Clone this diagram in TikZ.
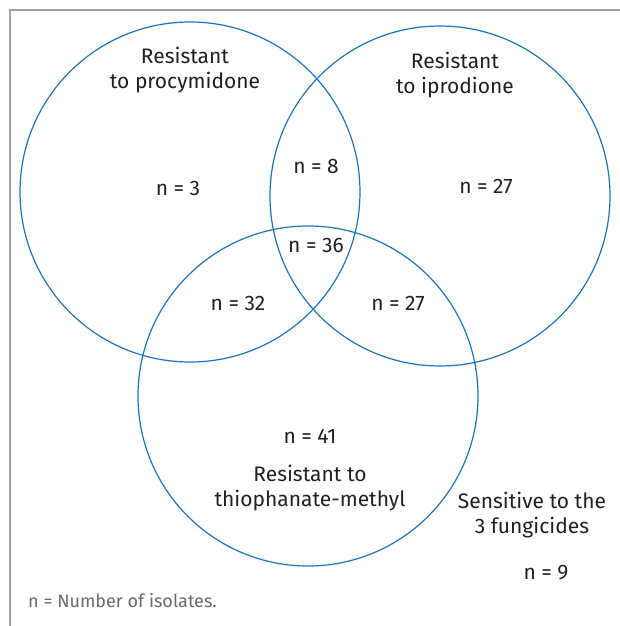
\documentclass[tikz,border=0pt]{standalone}
\usepackage{fontspec}
\setmainfont{Fira Sans}
\definecolor{vennblue}{RGB}{28,114,189}
\definecolor{framegray}{RGB}{160,160,160}
\definecolor{txtdark}{RGB}{35,31,32}
\definecolor{notegray}{RGB}{105,105,105}
\begin{document}
\begin{tikzpicture}[x=1pt, y=-1pt,
    set/.style={vennblue, line width=1.2pt},
    lbl/.style={font=\fontsize{21}{25}\selectfont, text=txtdark, align=center, inner sep=0pt},
    note/.style={font=\fontsize{18}{22}\selectfont, text=notegray, anchor=west, inner sep=0pt}]

    \useasboundingbox (0,0) rectangle (620,626);

    %% frame (top and left edges only)
    \draw[framegray, line width=1.5pt] (10,626) -- (10,10) -- (620,10);

    %% the three sets
    \draw[set] (190,192) circle[radius=170];
    \draw[set] (440,196) circle[radius=170];
    \draw[set] (308,396) circle[radius=170];

    %% set names
    \node[lbl] (procy) at (185,70) {Resistant\\to procymidone};
    \node[lbl] (ipro) at (455,75) {Resistant\\to iprodione};
    \node[lbl] (thio) at (310,488) {Resistant to\\thiophanate-methyl};
    \node[lbl] (sens) at (532,515) {Sensitive to the\\3 fungicides};

    %% counts
    \node[lbl] (nA) at (178,188) {n = 3};
    \node[lbl] (nAB) at (316,166) {n = 8};
    \node[lbl] (nB) at (486,186) {n = 27};
    \node[lbl] (nABC) at (316,245) {n = 36};
    \node[lbl] (nAC) at (238,303) {n = 32};
    \node[lbl] (nBC) at (398,303) {n = 27};
    \node[lbl] (nC) at (310,436) {n = 41};
    \node[lbl] (nO) at (546,573) {n = 9};

    %% footnote
    \node[note] (key) at (28,601) {n = Number of isolates.};
\end{tikzpicture}
\end{document}
